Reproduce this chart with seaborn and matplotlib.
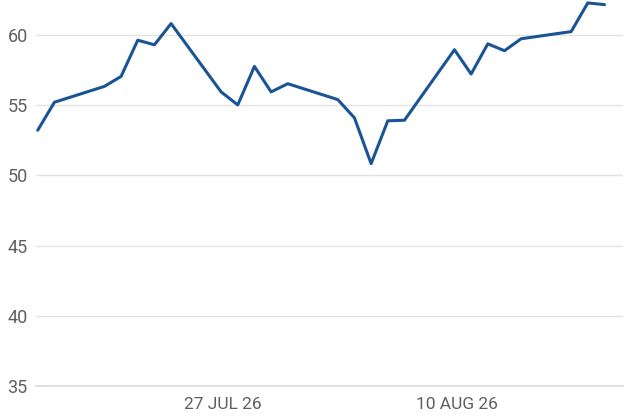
import matplotlib
matplotlib.use("Agg")
import matplotlib.pyplot as plt
import seaborn as sns
import pandas as pd

dates = ["2026-07-16", "2026-07-17", "2026-07-20", "2026-07-21", "2026-07-22",
         "2026-07-23", "2026-07-24", "2026-07-27", "2026-07-28", "2026-07-29",
         "2026-07-30", "2026-07-31", "2026-08-03", "2026-08-04", "2026-08-05",
         "2026-08-06", "2026-08-07", "2026-08-10", "2026-08-11", "2026-08-12",
         "2026-08-13", "2026-08-14", "2026-08-17", "2026-08-18", "2026-08-19"]
values = [53.21, 55.20, 56.33, 57.04, 59.62, 59.29, 60.80, 55.94, 55.01, 57.75,
          55.94, 56.52, 55.39, 54.09, 50.83, 53.88, 53.92, 58.94, 57.21, 59.36,
          58.87, 59.72, 60.23, 62.27, 62.15]
y_ticks = [35, 40, 45, 50, 55, 60]
x_ticks = ["2026-07-27", "2026-08-10"]
x_tick_labels = ["27 JUL 26", "10 AUG 26"]

df = pd.DataFrame({"date": pd.to_datetime(dates), "value": values})

sns.set_theme(style="white")
plt.rcParams["font.family"] = ["Roboto", "DejaVu Sans"]

fig = plt.figure(figsize=(6.26, 4.17), dpi=100)
ax = fig.add_axes([36 / 626, 31 / 417, (623 - 36) / 626, (417 - 31) / 417])

sns.lineplot(data=df, x="date", y="value", ax=ax, color="#1a5494", linewidth=2.2)

ax.set_ylim(35, 62.48)
ax.set_xlim(pd.Timestamp("2026-07-15 21:30"), pd.Timestamp("2026-08-20 02:40"))
ax.set_yticks(y_ticks)
ax.set_yticklabels([str(t) for t in y_ticks])
ax.set_xticks(pd.to_datetime(x_ticks) + pd.Timedelta(hours=3))
ax.set_xticklabels(x_tick_labels)
ax.set_xlabel("")
ax.set_ylabel("")

ax.grid(axis="y", color="#e3e3e3", linewidth=1.0)
ax.grid(axis="x", visible=False)
for s in ["top", "right", "left"]:
    ax.spines[s].set_visible(False)
ax.spines["bottom"].set_color("#d5d9e0")
ax.spines["bottom"].set_linewidth(1.2)

ax.tick_params(axis="y", length=0, pad=6, labelsize=13, labelcolor="#5f5f5f")
ax.tick_params(axis="x", length=7.5, width=1, color="#d5d9e0", pad=0.5, labelsize=12.5,
               labelcolor="#5f5f5f")
for lab in ax.get_yticklabels():
    lab.set_horizontalalignment("right")

fig.savefig("out.png", dpi=100)
